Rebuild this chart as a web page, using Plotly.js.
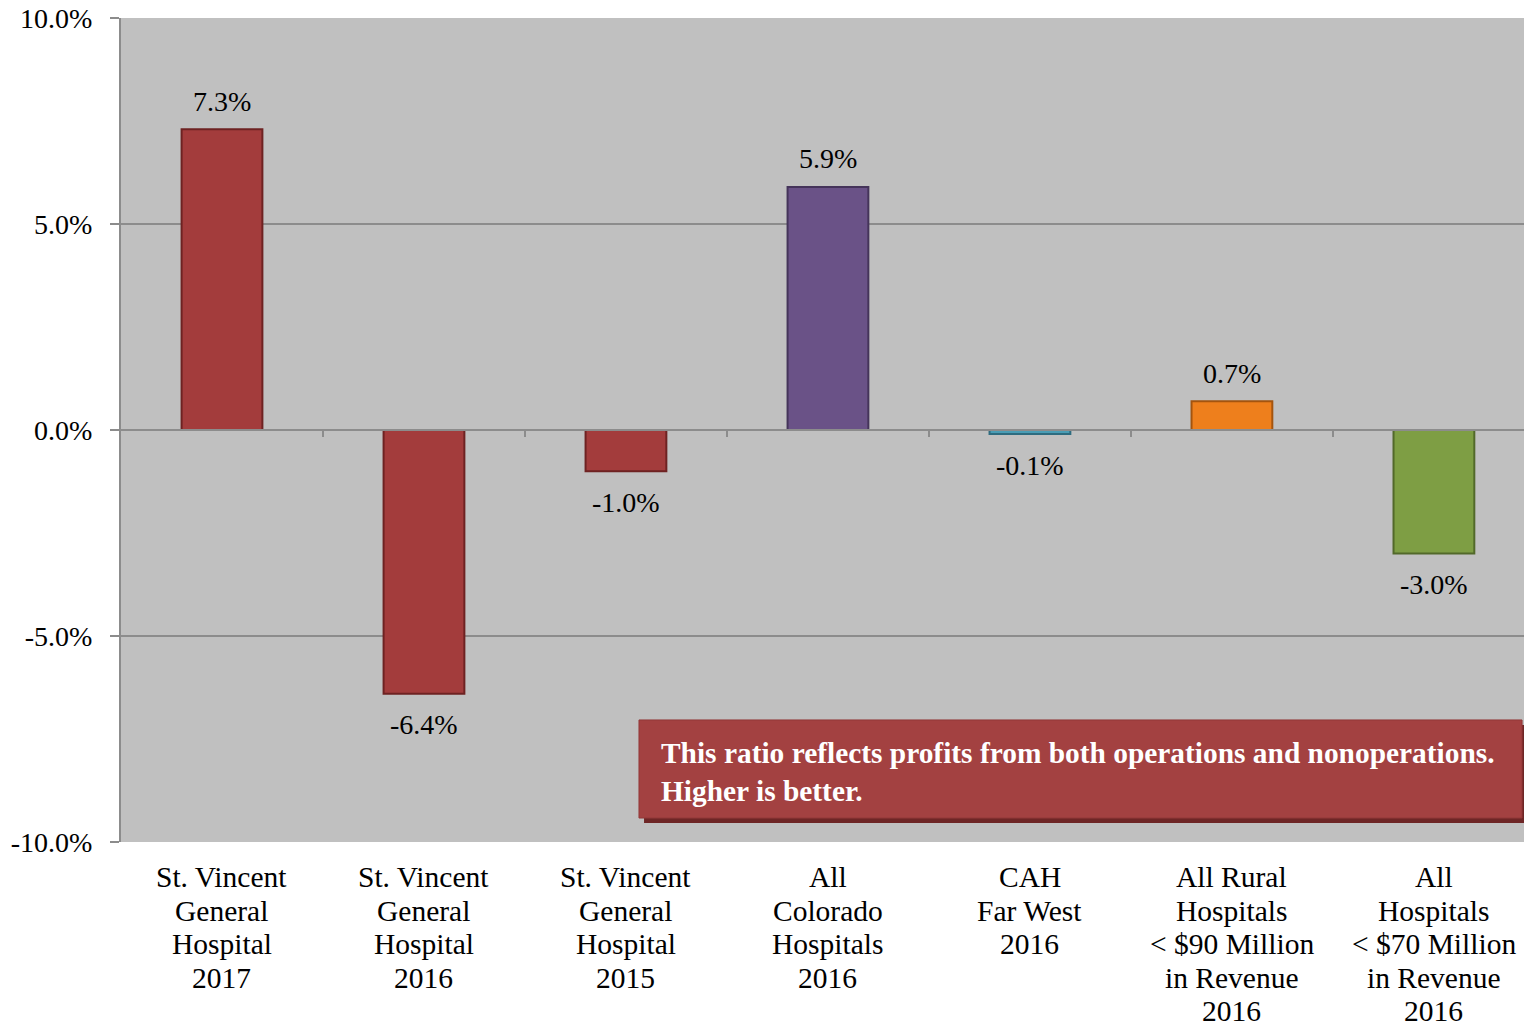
<!DOCTYPE html>
<html>
<head>
<meta charset="utf-8">
<script src="https://cdn.plot.ly/plotly-3.0.1.min.js"></script>
<style>html,body{margin:0;padding:0;background:#fff;}#chart{width:1524px;height:1025px;}</style>
</head>
<body>
<div id="chart"></div>
<script>
const categories = [
  "St. Vincent<br>General<br>Hospital<br>2017",
  "St. Vincent<br>General<br>Hospital<br>2016",
  "St. Vincent<br>General<br>Hospital<br>2015",
  "All<br>Colorado<br>Hospitals<br>2016",
  "CAH<br>Far West<br>2016",
  "All Rural<br>Hospitals<br>< $90 Million<br>in Revenue<br>2016",
  "All<br>Hospitals<br>< $70 Million<br>in Revenue<br>2016"
];
const values = [7.3, -6.4, -1.0, 5.9, -0.1, 0.7, -3.0];
const labels = ["7.3%", "-6.4%", "-1.0%", "5.9%", "-0.1%", "0.7%", "-3.0%"];
const barColors = ["#A33C3C", "#A33C3C", "#A33C3C", "#6A5287", "#4A9DB5", "#EE7F1C", "#7E9E44"];
const edgeColors = ["#6E2222", "#6E2222", "#6E2222", "#45345A", "#2E6C80", "#A4540E", "#52692A"];
const yTickVals = [-10, -5, 0, 5, 10];
const yTickText = ["-10.0%", "-5.0%", "0.0%", "5.0%", "10.0%"];
const note = "This ratio reflects profits from both operations and nonoperations.<br>Higher is better.";

const idx = categories.map((c, i) => i);
const font = "Liberation Serif";

const traces = [
  {
    type: "bar", x: idx, y: values, width: 0.4,
    marker: { color: barColors, line: { color: edgeColors, width: 2 } },
    hoverinfo: "skip", showlegend: false
  },
  {
    type: "scatter", x: [0, 6], y: [0, 0], xaxis: "x2", mode: "none",
    hoverinfo: "skip", showlegend: false
  }
];

const annotations = values.map((v, i) => ({
  x: i, y: v, xref: "x", yref: "y", text: labels[i], showarrow: false,
  yanchor: "middle", yshift: v >= 0 ? 28 : -31,
  font: { family: font, size: 28, color: "#000" }
}));
// category labels, one annotation per line for Excel-like line spacing
categories.forEach((c, i) => {
  c.split("<br>").forEach((line, k) => {
    annotations.push({
      x: i, xref: "x", y: 0, yref: "paper", text: line, showarrow: false,
      yanchor: "middle", xanchor: "center", yshift: -(35 + k * 33.6),
      font: { family: font, size: 29.5, color: "#000" }
    });
  });
});
annotations.push({
  xref: "paper", yref: "paper", x: 0.3835, y: 0.085, xanchor: "left", yanchor: "middle",
  text: "<b>" + note + "</b>", showarrow: false, align: "left",
  font: { family: font, size: 29.4, color: "#FFFFFF" }
});

const layout = {
  width: 1524, height: 1025,
  margin: { l: 121, r: 0, t: 18, b: 183 },
  paper_bgcolor: "#FFFFFF", plot_bgcolor: "#C0C0C0",
  font: { family: font, size: 28, color: "#000" },
  showlegend: false,
  xaxis: {
    range: [-0.5, 6.446], tickvals: idx, showticklabels: false,
    ticks: "", showgrid: false, zeroline: false, showline: false, fixedrange: true
  },
  xaxis2: {
    overlaying: "x", anchor: "free", position: 0.5, side: "bottom",
    range: [-0.5, 6.446], tickvals: [0.5, 1.5, 2.5, 3.5, 4.5, 5.5],
    ticks: "outside", ticklen: 6, tickcolor: "#8C8C8C", tickwidth: 2,
    showticklabels: false, showgrid: false, zeroline: false,
    showline: true, linecolor: "#8C8C8C", linewidth: 2
  },
  yaxis: {
    range: [-10, 10], tickvals: yTickVals, ticktext: yTickText,
    ticks: "outside", ticklen: 9, tickcolor: "#8C8C8C", tickwidth: 2,
    ticklabelstandoff: 12,
    showgrid: true, gridcolor: "#8C8C8C", gridwidth: 2,
    zeroline: false, showline: true, linecolor: "#8C8C8C", linewidth: 2,
    tickfont: { family: font, size: 28, color: "#000" }, fixedrange: true
  },
  shapes: [
    {
      type: "rect", xref: "paper", yref: "paper", layer: "above",
      x0: 0.3728, x1: 1.0, y0: 0.0231, y1: 0.1420,
      fillcolor: "#6E2626", line: { width: 0 }
    },
    {
      type: "rect", xref: "paper", yref: "paper", layer: "above",
      x0: 0.3692, x1: 0.9986, y0: 0.0291, y1: 0.1481,
      fillcolor: "#A34141", line: { color: "#923838", width: 1 }
    }
  ],
  annotations: annotations
};

Plotly.newPlot("chart", traces, layout, { staticPlot: true, displayModeBar: false });
</script>
</body>
</html>
